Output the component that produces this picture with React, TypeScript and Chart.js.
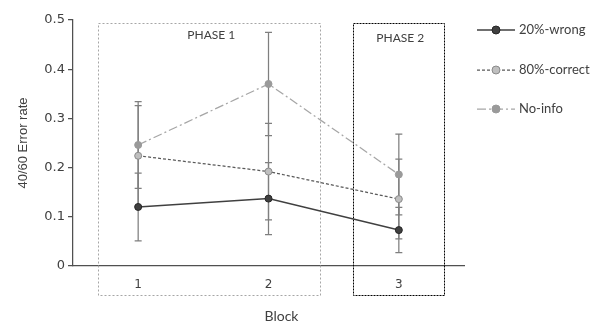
import React, { useEffect, useRef } from 'react';
import { Chart, registerables } from 'chart.js';

Chart.register(...registerables);

// ---- data ----
const categories = ['1', '2', '3'];
const seriesNames = ['20%-wrong', '80%-correct', 'No-info'];
const wrong20 = [0.12, 0.137, 0.073];
const wrong20Err = [0.069, 0.073, 0.046];
const correct80 = [0.224, 0.192, 0.136];
const correct80Err = [0.102, 0.098, 0.081];
const noInfo = [0.246, 0.37, 0.186];
const noInfoErr = [0.088, 0.105, 0.082];
const yMin = 0;
const yMax = 0.5;
const yStep = 0.1;
const phaseLabels = ['PHASE 1', 'PHASE 2'];
const phaseFirst = [0, 2];
const phaseLast = [1, 2];
const yTitle = '40/60 Error rate';
const xTitle = 'Block';

// ---- styles ----
const seriesValues = [wrong20, correct80, noInfo];
const seriesErrors = [wrong20Err, correct80Err, noInfoErr];
const lineColors = ['#404040', '#595959', '#a6a6a6'];
const lineDashes: number[][] = [[], [3, 2], [9, 3, 2, 3]];
const lineWidths = [1.5, 1.25, 1.25];
const pointFills = ['#404040', '#bfbfbf', '#9a9a9a'];
const pointBorders = ['#262626', '#8a8a8a', '#9a9a9a'];
const textColor = '#404040';
const uiFont = 'Lato, "Open Sans", sans-serif';
const tickFont = '"DejaVu Sans", sans-serif';

const phaseBoxStyle = [
  { padL: 40, padR: 52, color: '#a6a6a6', dash: [2, 2], labelDy: 12 },
  { padL: 46, padR: 45, color: '#000000', dash: [2, 1], labelDy: 15 },
];

const overlayPlugin = {
  id: 'overlay',
  beforeDatasetsDraw(chart: any) {
    const { ctx, chartArea } = chart;
    const x = chart.scales.x;
    const y = chart.scales.y;
    ctx.save();
    // phase boxes
    phaseLabels.forEach((label, i) => {
      const st = phaseBoxStyle[i];
      const left = x.getPixelForValue(phaseFirst[i]) - st.padL;
      const right = x.getPixelForValue(phaseLast[i]) + st.padR;
      const top = chartArea.top + 3.5;
      const bottom = chartArea.bottom + 29.5;
      ctx.strokeStyle = st.color;
      ctx.lineWidth = 1;
      ctx.setLineDash(st.dash);
      ctx.strokeRect(Math.round(left) + 0.5, top, Math.round(right - left), bottom - top);
      ctx.setLineDash([]);
      ctx.fillStyle = textColor;
      ctx.font = `12px ${uiFont}`;
      ctx.textAlign = 'center';
      ctx.textBaseline = 'middle';
      ctx.fillText(label, (left + right) / 2 + 2, top + st.labelDy);
    });
    // error bars
    ctx.strokeStyle = '#7f7f7f';
    ctx.lineWidth = 1.25;
    seriesValues.forEach((vals, s) => {
      vals.forEach((v, j) => {
        const e = seriesErrors[s][j];
        const px = x.getPixelForValue(j);
        const t = y.getPixelForValue(v + e);
        const b = y.getPixelForValue(v - e);
        ctx.beginPath();
        ctx.moveTo(px, t);
        ctx.lineTo(px, b);
        ctx.moveTo(px - 3.5, t);
        ctx.lineTo(px + 3.5, t);
        ctx.moveTo(px - 3.5, b);
        ctx.lineTo(px + 3.5, b);
        ctx.stroke();
      });
    });
    ctx.restore();
  },
  afterDraw(chart: any) {
    const { ctx, chartArea } = chart;
    ctx.save();
    // legend
    const lx0 = chartArea.right + 13;
    const lx1 = chartArea.right + 51;
    const ly = [30, 70, 109];
    seriesNames.forEach((name, i) => {
      const yy = ly[i];
      ctx.strokeStyle = lineColors[i];
      ctx.lineWidth = lineWidths[i];
      ctx.setLineDash(lineDashes[i]);
      ctx.beginPath();
      ctx.moveTo(lx0, yy);
      ctx.lineTo(lx1, yy);
      ctx.stroke();
      ctx.setLineDash([]);
      ctx.beginPath();
      ctx.arc((lx0 + lx1) / 2, yy, 4, 0, Math.PI * 2);
      ctx.fillStyle = pointFills[i];
      ctx.fill();
      ctx.strokeStyle = pointBorders[i];
      ctx.lineWidth = 1;
      ctx.stroke();
      ctx.fillStyle = textColor;
      ctx.font = `13px ${uiFont}`;
      ctx.textAlign = 'left';
      ctx.textBaseline = 'middle';
      ctx.fillText(name, lx1 + 4, yy);
    });
    // x title
    ctx.fillStyle = textColor;
    ctx.font = `14px ${uiFont}`;
    ctx.textAlign = 'center';
    ctx.textBaseline = 'middle';
    ctx.fillText(xTitle, (chartArea.left + chartArea.right) / 2 + 13, chartArea.bottom + 50);
    ctx.restore();
  },
};

export default function App() {
  const ref = useRef<HTMLCanvasElement | null>(null);
  useEffect(() => {
    if (!ref.current) return;
    const chart = new Chart(ref.current, {
      type: 'line',
      data: {
        labels: categories,
        datasets: seriesNames.map((name, i) => ({
          label: name,
          data: seriesValues[i],
          borderColor: lineColors[i],
          borderWidth: lineWidths[i],
          borderDash: lineDashes[i],
          backgroundColor: pointFills[i],
          pointBackgroundColor: pointFills[i],
          pointBorderColor: pointBorders[i],
          pointBorderWidth: 1,
          pointRadius: 3.5,
          tension: 0,
          fill: false,
        })),
      },
      options: {
        responsive: false,
        animation: false,
        devicePixelRatio: 1,
        layout: { padding: { top: 20, right: 131, bottom: 0, left: 0 } },
        plugins: {
          legend: { display: false },
          tooltip: { enabled: false },
        },
        scales: {
          x: {
            type: 'category',
            offset: true,
            grid: { display: false, drawTicks: false },
            border: { display: true, color: '#505050', width: 1.25 },
            ticks: {
              color: textColor,
              font: { family: tickFont, size: 12 },
              padding: 12,
              maxRotation: 0,
            },
            afterFit: (scale: any) => {
              scale.height = 56;
            },
          },
          y: {
            min: yMin,
            max: yMax,
            ticks: {
              stepSize: yStep,
              color: textColor,
              font: { family: tickFont, size: 13 },
              padding: 3,
            },
            grid: {
              drawOnChartArea: false,
              drawTicks: true,
              tickLength: 5,
              color: '#505050',
              lineWidth: 1.25,
            },
            border: { display: true, color: '#505050', width: 1.25 },
            title: {
              display: true,
              text: yTitle,
              color: textColor,
              font: { family: '"Liberation Sans", Arial, sans-serif', size: 13 },
              padding: { top: 16, bottom: 0 },
            },
            afterFit: (scale: any) => {
              scale.width = 73;
            },
          },
        },
      },
      plugins: [overlayPlugin],
    } as any);
    return () => chart.destroy();
  }, []);
  return (
    <div style={{ position: 'fixed', left: 0, top: 0, width: 595, height: 322, background: '#fff' }}>
      <canvas ref={ref} width={595} height={322} />
    </div>
  );
}
